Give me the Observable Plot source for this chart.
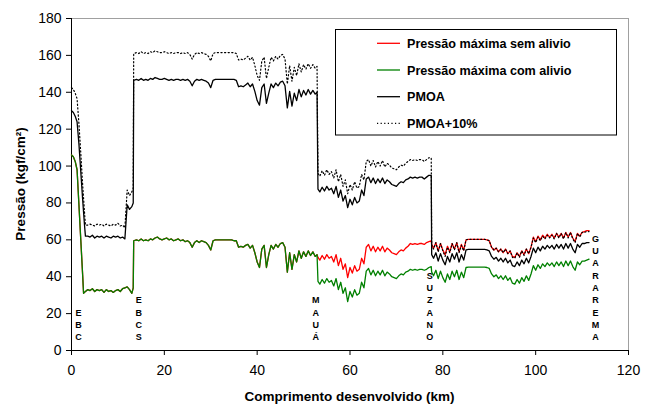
<!DOCTYPE html>
<html><head><meta charset="utf-8">
<script src="https://cdn.jsdelivr.net/npm/d3@7"></script>
<script src="https://cdn.jsdelivr.net/npm/@observablehq/plot@0.6"></script>
<style>body{margin:0;background:#fff;} svg{display:block;}</style>
</head><body><div id="chart"></div>
<script>
const km = [
  0, 0.4, 0.8, 1.2, 1.6, 2.0, 2.4, 2.6, 2.8, 3.0,
  3.5, 4, 4.5, 5, 5.5, 6, 6.5, 7, 7.5, 8,
  8.5, 9, 9.5, 10, 10.5, 11, 11.5, 12, 12.5, 13,
  13.3, 13.4, 14, 14.5, 15, 15.5, 16, 16.5, 17, 17.5,
  18, 18.5, 19, 19.5, 20, 20.5, 21, 21.5, 22, 22.5,
  23, 23.5, 24, 24.5, 25, 25.5, 26, 26.5, 27, 27.5,
  28, 28.5, 29, 29.5, 30, 30.5, 31, 31.5, 32, 32.5,
  33, 33.5, 34, 34.5, 35, 35.5, 36, 36.5, 37, 37.5,
  38, 38.5, 39, 39.5, 40, 40.5, 41, 41.5, 42, 42.5,
  43, 43.5, 44, 44.5, 45, 45.5, 46, 46.5, 47, 47.5,
  48, 48.5, 49, 49.5, 50, 50.5, 51, 51.5, 52, 52.5,
  52.9, 53.1, 53.5, 54, 54.5, 55, 55.5, 56, 56.5, 57,
  57.5, 58, 58.5, 59, 59.5, 60, 60.5, 61, 61.5, 62,
  62.5, 63, 63.5, 64, 64.5, 65, 65.5, 66, 66.5, 67,
  67.5, 68, 68.5, 69, 69.5, 70, 70.5, 71, 71.5, 72,
  72.5, 73, 73.5, 74, 74.5, 75, 75.5, 76, 76.5, 77,
  77.5, 77.6, 78, 78.5, 79, 79.5, 80, 80.5, 81, 81.5,
  82, 82.5, 83, 83.5, 84, 84.5, 85, 85.5, 86, 86.5,
  87, 87.5, 88, 88.5, 89, 89.5, 90, 90.5, 91, 91.5,
  92, 92.5, 93, 93.5, 94, 94.5, 95, 95.5, 96, 96.5,
  97, 97.5, 98, 98.5, 99, 99.5, 100, 100.5, 101, 101.5,
  102, 102.5, 103, 103.5, 104, 104.5, 105, 105.5, 106, 106.5,
  107, 107.5, 108, 108.5, 109, 109.5, 110, 110.5, 111, 111.5
];

const comAlivio = [
  106, 105, 102.5, 98, 79, 60, 41, 31, 31.5, 32,
  33, 32.5, 33.5, 32, 33, 32.5, 33, 31.5, 33, 32,
  32.5, 31.5, 32.5, 33, 32, 33.5, 34, 34.5, 33, 31,
  34, 59.5, 60, 59.5, 60.5, 59.5, 60, 59.5, 60.5, 60,
  61, 61.5, 60.5, 60, 60.5, 61, 60, 60.5, 59.5, 60,
  60.5, 59.5, 60, 59, 59.5, 58.5, 56, 58.5, 59.5, 58.5,
  59.5, 59, 58.5, 57, 54.5, 59.5, 60, 60, 60, 60,
  60, 60, 60, 60, 59.5, 59.5, 56, 56.5, 56, 57,
  57.5, 55.5, 57, 53, 48, 45, 55, 57, 45, 52,
  57, 55, 57.5, 56, 58, 58.5, 56, 42.5, 53, 44,
  52, 48, 54, 50, 53.5, 51, 54, 51.5, 53.5, 51,
  52, 37.5, 36, 38.5, 36.5, 39, 37, 38, 35, 39,
  33, 37, 31, 34, 26.5, 32, 29, 33, 30, 31,
  37, 34, 43, 44.5, 41, 43.5, 40.5, 43, 41, 43.5,
  40.5, 42.5, 41.5, 40, 39.5, 39, 40.5, 41.5, 41, 42.5,
  43, 44, 43.5, 44, 43.5, 44, 44, 43.5, 44, 45,
  45.5, 42.5, 40.5, 43.5, 39, 43, 39.5, 37, 41.5, 38.5,
  43, 40, 43.5, 38.5, 42.5, 39.5, 45, 45.2, 45.2, 45.2,
  45.2, 45.2, 45.2, 45.2, 45.2, 45, 44.5, 41.5, 40, 41,
  39, 40.5, 38.5, 40.5, 38, 39.5, 36.5, 36, 38.5, 36.5,
  39.5, 37.5, 40.5, 38, 41.5, 46, 43.5, 46.5, 44.5, 47,
  45.5, 47.5, 46, 47.5, 45.5, 48, 46, 48, 45.5, 48.5,
  46, 48.5, 45.5, 43.5, 48, 46.5, 48.5, 48.5, 49, 49.5
];

const semAlivio = [
  106, 105, 102.5, 98, 79, 60, 41, 31, 31.5, 32,
  33, 32.5, 33.5, 32, 33, 32.5, 33, 31.5, 33, 32,
  32.5, 31.5, 32.5, 33, 32, 33.5, 34, 34.5, 33, 31,
  34, 59.5, 60, 59.5, 60.5, 59.5, 60, 59.5, 60.5, 60,
  61, 61.5, 60.5, 60, 60.5, 61, 60, 60.5, 59.5, 60,
  60.5, 59.5, 60, 59, 59.5, 58.5, 56, 58.5, 59.5, 58.5,
  59.5, 59, 58.5, 57, 54.5, 59.5, 60, 60, 60, 60,
  60, 60, 60, 60, 59.5, 59.5, 56, 56.5, 56, 57,
  57.5, 55.5, 57, 53, 48, 45, 55, 57, 45, 52,
  57, 55, 57.5, 56, 58, 58.5, 56, 42.5, 53, 44,
  52, 48, 54, 50, 53.5, 51, 54, 51.5, 53.5, 51,
  52, 50.5, 49, 51.5, 49.5, 52, 50, 51, 48, 52,
  46, 50, 44, 47, 39.5, 45, 42, 46, 43, 44,
  50, 47, 56, 57.5, 54, 56.5, 53.5, 56, 54, 56.5,
  53.5, 55.5, 54.5, 53, 52.5, 52, 53.5, 54.5, 54, 55.5,
  56.5, 58, 57.5, 58, 57.5, 58, 58, 57.5, 58.5, 59,
  59.5, 57.5, 55.5, 58.5, 54, 58, 54.5, 52, 56.5, 53.5,
  58, 55, 58.5, 53.5, 57.5, 54.5, 60, 60.2, 60.2, 60.2,
  60.2, 60.2, 60.2, 60.2, 60.2, 60, 59.5, 56, 54.5, 55.5,
  53.5, 55, 53, 55, 52.5, 54, 51, 50.5, 53, 51,
  54, 52, 55, 52.5, 56, 61.5, 59, 62, 60, 62.5,
  61, 63, 61.5, 63, 61, 63.5, 61.5, 63.5, 61, 64,
  61.5, 64, 61, 59, 63.5, 62, 64, 64.5, 65, 65
];

const pmoa = [
  130, 129, 127, 124, 112, 97, 82, 75, 68, 62,
  62, 61.5, 62.5, 61, 62, 61.5, 62, 61, 62, 61.5,
  61, 62, 61.5, 62, 61, 61.5, 60.5, 79, 76.5, 78,
  80, 146.5, 147, 146.5, 147.5, 146.5, 147, 146.5, 147.5, 147,
  148, 147.5, 147, 147, 147.5, 147, 146.5, 147, 146.5, 147,
  147, 146.5, 147, 146.5, 147, 146, 143.5, 146, 147, 146.5,
  147, 146.5, 146, 145, 142.5, 146.5, 147, 147, 147, 147,
  147, 147, 147, 147, 147, 146.5, 143, 143.5, 143, 144,
  145, 143, 144.5, 140.5, 135.5, 133, 142.5, 144.5, 134, 139.5,
  144.5, 142.5, 145, 143.5, 145.5, 146, 143.5, 131.5, 140.5, 132.5,
  139.5, 135.5, 141.5, 137.5, 141, 138.5, 141.5, 139, 141, 139,
  140, 87.5, 86, 88.5, 86.5, 89, 87, 88, 85, 89,
  83, 87, 81, 84, 77.5, 82, 79, 83, 80, 81,
  87, 84, 93, 94, 91, 93.5, 90.5, 93, 91, 93.5,
  90.5, 92.5, 91.5, 90, 89.5, 89, 90.5, 91.5, 91, 92.5,
  93, 94, 93.5, 94, 93.5, 94, 94, 93, 94, 95,
  95, 52, 50, 53, 48.5, 52.5, 49, 46.5, 51, 48,
  52.5, 49.5, 53, 48, 52, 49, 54.5, 54.8, 54.8, 54.8,
  54.8, 54.8, 54.8, 54.8, 54.8, 54.5, 54, 51, 49.5, 50.5,
  48.5, 50, 48, 50, 47.5, 49, 46, 45.5, 48, 46,
  49, 47, 50, 47.5, 51, 55.5, 53, 56, 54, 56.5,
  55, 57, 55.5, 57, 55, 57.5, 55.5, 57.5, 55, 58,
  55.5, 58, 55, 53, 57.5, 56, 58, 58, 58.5, 58.5
];

const pmoaMais10 = [
  142.5, 141.5, 139.5, 136.5, 123, 107, 90, 82.5, 75, 68,
  68, 68.5, 68, 67.5, 68.5, 68, 68.5, 67.5, 68.5, 68,
  67.5, 68.5, 68, 69, 67.5, 68, 66.5, 87, 84, 86,
  88, 161, 161.5, 161, 162, 161, 161.5, 161, 162, 161.5,
  162.5, 162, 161.5, 161.5, 162, 161.5, 161, 161.5, 161, 161.5,
  161.5, 161, 161.5, 161, 161.5, 160.5, 158, 160.5, 161.5, 161,
  161.5, 161, 160.5, 159.5, 157, 161, 161.5, 161.5, 161.5, 161.5,
  161.5, 161.5, 161.5, 161.5, 161.5, 161, 157.5, 158, 157.5, 158.5,
  159.5, 157.5, 159, 154.5, 149, 146.5, 157, 159, 147.5, 153.5,
  159, 157, 159.5, 158, 160, 160.5, 158, 144.5, 154.5, 146,
  153.5, 149, 155.5, 151, 155, 152.5, 155.5, 153, 155, 153,
  154, 96, 94.5, 97.5, 95, 98, 95.5, 97, 93.5, 98,
  91.5, 95.5, 89, 92.5, 85, 90, 87, 91.5, 88, 89,
  95.5, 92.5, 102.5, 103.5, 100, 103, 99.5, 102.5, 100, 103,
  99.5, 101.5, 100.5, 99, 98.5, 98, 99.5, 100.5, 100, 101.5,
  102.5, 103.5, 103, 103.5, 103, 103.5, 103.5, 102.5, 103.5, 104.5,
  104.5, 57, 55, 58.5, 53.5, 58, 54, 51, 56, 53,
  58, 54.5, 58.5, 53, 57, 54, 60, 60.3, 60.3, 60.3,
  60.3, 60.3, 60.3, 60.3, 60.3, 60, 59.5, 56, 54.5, 55.5,
  53.5, 55, 53, 55, 52.5, 54, 50.5, 50, 53, 50.5,
  54, 51.5, 55, 52.5, 56, 61, 58.5, 61.5, 59.5, 62,
  60.5, 62.5, 61, 62.5, 60.5, 63.5, 61, 63.5, 60.5, 64,
  61, 64, 60.5, 58.5, 63.5, 61.5, 64, 64, 64.5, 64.5
];

const seriesNames = ["Pressão máxima sem alivio", "Pressão máxima com alivio", "PMOA", "PMOA+10%"];
const seriesColors = ["#ff0000", "#008000", "#000000", "#000000"];
const stations = ["EBC", "EBCS", "MAUÁ", "SUZANO", "GUARAREMA"];
const stationKm = [1.5, 14.5, 52.6, 77.2, 112.9];
const xTicks = [0, 20, 40, 60, 80, 100, 120];
const yTicks = [0, 20, 40, 60, 80, 100, 120, 140, 160, 180];
const xLabel = "Comprimento desenvolvido (km)";
const yLabel = "Pressão (kgf/cm²)";

const toRows = vals => km.map((k, i) => ({km: k, v: vals[i]}));
const stationRows = stations.map((s, i) => ({km: stationKm[i], label: s.split("").join("\n")}));

const font = "'Liberation Sans', Arial, sans-serif";
const W = 648, H = 406, mL = 71, mR = 20, mT = 18, mB = 56;

const plot = Plot.plot({
  width: W, height: H,
  marginLeft: mL, marginRight: mR, marginTop: mT, marginBottom: mB,
  style: {fontFamily: font, fontSize: "14px", background: "#fff", color: "#000"},
  x: {domain: [0, 120], ticks: xTicks, label: null},
  y: {domain: [0, 180], ticks: yTicks, label: null},
  marks: [
    Plot.ruleY([180], {stroke: "#a0a0a0", strokeWidth: 1}),
    Plot.ruleX([120], {stroke: "#a0a0a0", strokeWidth: 1}),
    Plot.axisX({ticks: xTicks, tickSize: 5, tickPadding: 10, label: null, stroke: "#000", fontSize: 14}),
    Plot.axisY({ticks: yTicks, tickSize: 5, tickPadding: 5, label: null, stroke: "#000", fontSize: 14}),
    Plot.ruleX([0], {stroke: "#000", strokeWidth: 1}),
    Plot.ruleY([0], {stroke: "#000", strokeWidth: 1}),
    Plot.line(toRows(semAlivio), {x: "km", y: "v", stroke: seriesColors[0], strokeWidth: 1.3}),
    Plot.line(toRows(comAlivio), {x: "km", y: "v", stroke: seriesColors[1], strokeWidth: 1.3}),
    Plot.line(toRows(pmoa), {x: "km", y: "v", stroke: seriesColors[2], strokeWidth: 1.3}),
    Plot.line(toRows(pmoaMais10), {x: "km", y: "v", stroke: seriesColors[3], strokeWidth: 1.2, strokeDasharray: "1.2,2.4"}),
    Plot.text(stationRows, {x: "km", y: () => 5.5, text: "label", lineAnchor: "bottom", lineHeight: 1.37,
      fontSize: 9, fontWeight: "bold", fill: "#000", fontFamily: font})
  ]
});

document.getElementById("chart").appendChild(plot);
const svg = d3.select(plot);

// axis titles
svg.append("text").attr("x", (mL + W - mR) / 2).attr("y", 401)
  .attr("text-anchor", "middle").attr("font-weight", "bold").attr("font-size", "13.5px")
  .attr("font-family", font).attr("fill", "#000").text(xLabel);
svg.append("text").attr("transform", `translate(25,${(mT + H - mB) / 2}) rotate(-90)`)
  .attr("text-anchor", "middle").attr("font-weight", "bold").attr("font-size", "13.5px")
  .attr("font-family", font).attr("fill", "#000").text(yLabel);

// legend
const lg = svg.append("g");
lg.append("rect").attr("x", 335.5).attr("y", 29.5).attr("width", 281).attr("height", 105.5)
  .attr("fill", "#fff").attr("stroke", "#000").attr("stroke-width", 1);
const rowY = [43.3, 70, 96.7, 123.3];
seriesNames.forEach((name, i) => {
  lg.append("line").attr("x1", 377).attr("x2", 400).attr("y1", rowY[i]).attr("y2", rowY[i])
    .attr("stroke", seriesColors[i]).attr("stroke-width", 1.3)
    .attr("stroke-dasharray", i === 3 ? "1.2,2.4" : null);
  lg.append("text").attr("x", 407).attr("y", rowY[i] + 4.6).attr("text-anchor", "start")
    .attr("font-weight", "bold").attr("font-size", "12.6px").attr("font-family", font)
    .attr("fill", "#000").text(name);
});
</script>
</body></html>
